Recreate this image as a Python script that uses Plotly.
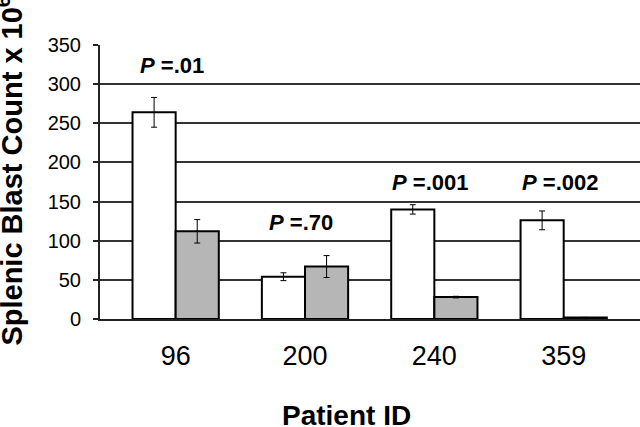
import plotly.graph_objects as go

patients = ["96", "200", "240", "359"]
white_vals = [264, 54, 140, 126]
white_err = [19, 5, 6, 12]
grey_vals = [112, 67, 28, 2]
grey_err = [15, 14, 1, 0]
p_labels = ["<b><i>P</i> =.01</b>", "<b><i>P</i> =.70</b>", "<b><i>P</i> =.001</b>", "<b><i>P</i> =.002</b>"]
p_label_y = [324, 123, 175, 175]

xpos = list(range(len(patients)))
FONT = "Liberation Sans, Arial, sans-serif"

fig = go.Figure()
fig.add_trace(go.Bar(
    x=xpos, y=white_vals,
    marker=dict(color="white", line=dict(color="black", width=2)),
    error_y=dict(type="data", array=white_err, visible=True, color="black", thickness=1, width=3),
    showlegend=False,
))
fig.add_trace(go.Bar(
    x=xpos, y=grey_vals,
    marker=dict(color="#b6b6b6", line=dict(color="black", width=2)),
    error_y=dict(type="data", array=grey_err, visible=True, color="black", thickness=1, width=3),
    showlegend=False,
))

for xi, txt, yy in zip(xpos, p_labels, p_label_y):
    fig.add_annotation(x=xi, y=yy, text=txt, showarrow=False, xref="x", yref="y", xshift=-4,
                       font=dict(family=FONT, size=22, color="black"))

fig.add_annotation(x=-0.167, y=0.541, xref="paper", yref="paper", text="<b>Splenic Blast Count x 10<sup>6</sup></b>",
                   textangle=-90, showarrow=False, xanchor="center", yanchor="middle",
                   font=dict(family=FONT, size=29, color="black"))
fig.add_annotation(x=0.456, y=-0.354, xref="paper", yref="paper", text="<b>Patient ID</b>",
                   showarrow=False, xanchor="center", yanchor="middle",
                   font=dict(family=FONT, size=28, color="black"))

fig.update_layout(
    width=640, height=427,
    margin=dict(l=100, r=0, t=45, b=108),
    paper_bgcolor="white", plot_bgcolor="white",
    barmode="group", bargap=0.333, bargroupgap=0,
    font=dict(family=FONT, color="black"),
    xaxis=dict(range=[-0.585, 3.59], tickvals=xpos, ticktext=patients,
               tickfont=dict(size=27, family=FONT, color="black"),
               showgrid=False, showline=True, linecolor="#222", linewidth=2,
               ticks="", ticklabelstandoff=12, zeroline=False),
    yaxis=dict(range=[0, 350], dtick=50, tickfont=dict(size=20, family=FONT, color="black"),
               showgrid=True, gridcolor="#333", gridwidth=2,
               showline=True, linecolor="#222", linewidth=2,
               ticks="outside", ticklen=5, tickwidth=2, tickcolor="#222",
               ticklabelstandoff=8, zeroline=False),
)

fig.write_html("out.html", config={"displayModeBar": False},
               post_script="document.body.style.margin='0';document.body.style.padding='0';")
